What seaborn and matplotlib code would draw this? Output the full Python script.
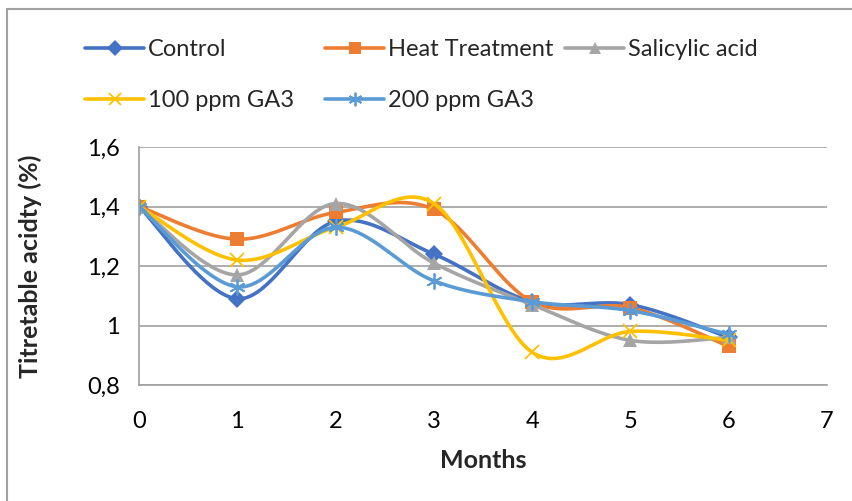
import numpy as np
import pandas as pd
import matplotlib.pyplot as plt
import matplotlib.ticker as mticker
from matplotlib.lines import Line2D
from matplotlib.patches import Rectangle
import seaborn as sns

sns.set_style('white')
plt.rcParams['font.family'] = ['Lato', 'DejaVu Sans']

months = [0, 1, 2, 3, 4, 5, 6]
control = [1.40, 1.09, 1.35, 1.24, 1.08, 1.07, 0.96]
heat = [1.40, 1.29, 1.38, 1.39, 1.08, 1.06, 0.93]
salicylic = [1.40, 1.17, 1.41, 1.21, 1.07, 0.95, 0.96]
ga3_100 = [1.40, 1.22, 1.33, 1.41, 0.91, 0.98, 0.95]
ga3_200 = [1.40, 1.13, 1.33, 1.15, 1.08, 1.05, 0.97]

series = [
    ('Control', control, '#4472C4', 'D', 9),
    ('Heat Treatment', heat, '#ED7D31', 's', 10.5),
    ('Salicylic acid', salicylic, '#A5A5A5', '^', 10.5),
    ('100 ppm GA3', ga3_100, '#FFC000', 'x', 10.5),
    ('200 ppm GA3', ga3_200, '#5B9BD5', (6, 2, 0), 11.5),
]


def smooth(xs, ys, n=40):
    # Excel-style smoothed line (Catmull-Rom bezier)
    p = np.column_stack([xs, ys]).astype(float)
    pts = np.vstack([p[0], p, p[-1]])
    out = []
    t = np.linspace(0, 1, n)[:, None]
    for i in range(1, len(pts) - 2):
        p0, p1, p2, p3 = pts[i - 1], pts[i], pts[i + 1], pts[i + 2]
        c1 = p1 + (p2 - p0) / 6
        c2 = p2 - (p3 - p1) / 6
        seg = ((1 - t) ** 3) * p1 + 3 * ((1 - t) ** 2) * t * c1 + 3 * (1 - t) * t ** 2 * c2 + t ** 3 * p2
        out.append(seg if i == 1 else seg[1:])
    out = np.vstack(out)
    return out[:, 0], out[:, 1]


fig = plt.figure(figsize=(8.53, 5.01), dpi=100)
ax = fig.add_axes([139 / 853, 1 - 385 / 501, (827 - 139) / 853, (385 - 147) / 501])

handles = []
for name, vals, color, marker, ms in series:
    sx, sy = smooth(months, vals)
    curve = pd.DataFrame({'x': sx, 'y': sy})
    sns.lineplot(data=curve, x='x', y='y', sort=False, color=color, lw=2.6, ax=ax)
    mew = 1.3 if marker in ('x', (6, 2, 0)) else 0
    ax.plot(months, vals, ls='none', marker=marker, ms=ms, color=color, mew=mew)
    handles.append(Line2D([], [], color=color, lw=2.6, marker=marker, ms=ms * 0.85, mew=mew))

ax.set_xlim(0, 7)
ax.set_ylim(0.8, 1.6)
ax.set_xticks(range(8))
ax.set_yticks([0.8, 1.0, 1.2, 1.4, 1.6])
ax.yaxis.set_major_formatter(mticker.FuncFormatter(lambda v, p: ('%g' % round(v, 1)).replace('.', ',')))
ax.grid(axis='y', color='#A0A0A0', lw=1.2)
ax.set_axisbelow(True)
for s in ['top', 'right']:
    ax.spines[s].set_visible(False)
for s in ['left', 'bottom']:
    ax.spines[s].set_color('#A0A0A0')
    ax.spines[s].set_linewidth(1.2)
ax.tick_params(axis='both', length=5, width=1.2, color='#A0A0A0', labelsize=17, labelcolor='black', pad=9)
ax.tick_params(axis='x', pad=14)
ax.set_xlabel('Months', fontsize=18, fontweight='bold', labelpad=12)
ax.set_ylabel('Titretable acidty (%)', fontsize=18, fontweight='bold', labelpad=32)

names = [s[0] for s in series]
cols = [([0, 3], 85), ([1, 4], 325), ([2], 565)]
for idx, x0 in cols:
    leg = fig.legend([handles[i] for i in idx], [names[i] for i in idx],
                     loc='upper left', bbox_to_anchor=(x0 / 853, 1 - 39 / 501),
                     frameon=False, fontsize=17, borderpad=0, borderaxespad=0,
                     handlelength=2.5, handletextpad=0.15, labelspacing=1.27)

fig.patches.append(Rectangle((7 / 853, -0.1), 1.2, 1 - 9 / 501 + 0.1, transform=fig.transFigure,
                             fill=False, edgecolor='#A0A0A0', lw=1.5))

fig.savefig('out.png', dpi=100)
